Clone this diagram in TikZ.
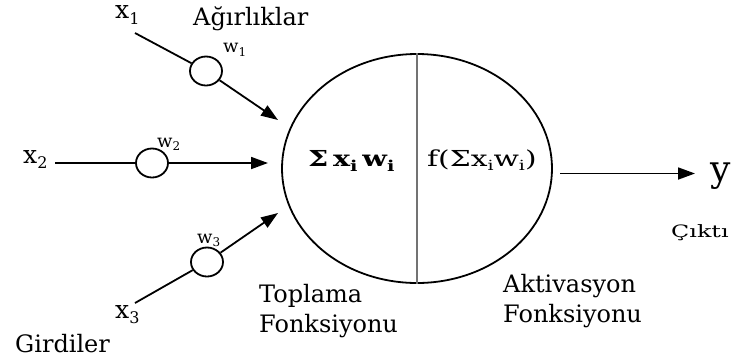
\documentclass[tikz,border=0pt]{standalone}
\usepackage{fontspec}
\setmainfont{DejaVu Serif}
\usetikzlibrary{shapes.geometric,arrows.meta}
\newcommand\dsub[3]{\raisebox{-#2}{\fontsize{#1}{#1}\selectfont #3}}
\tikzset{
  lbl/.style={inner sep=0pt, anchor=base west, font=\fontsize{24}{28}\selectfont},
  var/.style={inner sep=0pt, anchor=base west, font=\fontsize{25}{28}\selectfont},
  wvar/.style={inner sep=0pt, anchor=base west, font=\fontsize{18}{20}\selectfont},
  wcirc/.style={draw, ellipse, line width=1.8pt, minimum width=32pt, minimum height=29pt, inner sep=0pt},
  conn/.style={line width=1.8pt},
  arr/.style={line width=1.8pt, -{Triangle[length=17pt,width=12pt]}},
  formula/.style={inner sep=0pt, anchor=base west, font=\fontsize{22}{24}\selectfont}
}
\begin{document}
\begin{tikzpicture}[x=1pt,y=-1pt]
\useasboundingbox (0,0) rectangle (732,360);
% neuron body
\node[draw, ellipse, line width=1.8pt, minimum width=270pt, minimum height=229pt, inner sep=0pt] (n) at (417,168.5) {};
\draw[line width=2pt, black!55] (n.north) -- (n.south);
% formulas
\node[formula] (sum) at (308,166) {\scalebox{1.3}[1]{\bfseries Σ\,x\dsub{15}{5pt}{i}\,w\dsub{15}{5pt}{i}}};
\node[formula] (act) at (427,166) {\scalebox{1.35}[1]{f(Σx\dsub{14}{4pt}{i}w\dsub{14}{4pt}{i})}};
% input start points
\coordinate (s1) at (135,33);
\coordinate (s2) at (55,163);
\coordinate (s3) at (135,303);
% arrow tips
\coordinate (t1) at (278,120);
\coordinate (t2) at (268,163);
\coordinate (t3) at (278,213);
% weight circles
\node[wcirc] (c1) at (206,71) {};
\node[wcirc] (c2) at (152,163) {};
\node[wcirc] (c3) at (207,262) {};
\draw[conn] (s1) -- (c1);
\draw[conn] (s2) -- (c2);
\draw[conn] (s3) -- (c3);
\draw[arr] (c1) -- (t1);
\draw[arr] (c2) -- (t2);
\draw[arr] (c3) -- (t3);
% output
\coordinate (o1) at (560,173.5);
\coordinate (o2) at (695,173.5);
\draw[arr] (o1) -- (o2);
\node[inner sep=0pt, anchor=base west, font=\fontsize{36}{40}\selectfont] (y) at (710,181) {y};
% variable labels
\node[var] (x1) at (115,18) {x\dsub{16}{6pt}{1}};
\node[var] (x2) at (23,163) {x\dsub{16}{5pt}{2}};
\node[var] (x3) at (115,318) {x\dsub{16}{5pt}{3}};
\node[wvar] (w1) at (223,52) {w\dsub{12}{4pt}{1}};
\node[wvar] (w2) at (157,147) {w\dsub{12}{3pt}{2}};
\node[wvar] (w3) at (197,243) {w\dsub{12}{3pt}{3}};
% text labels
\node[lbl] (agr) at (193,25) {Ağırlıklar};
\node[lbl] (gir) at (15,352) {Girdiler};
\node[lbl] (top1) at (259,302) {Toplama};
\node[lbl] (top2) at (259,332) {Fonksiyonu};
\node[lbl] (akt1) at (503,292) {Aktivasyon};
\node[lbl] (akt2) at (503,322) {Fonksiyonu};
\node[inner sep=0pt, anchor=base west, font=\fontsize{17}{20}\selectfont] (cik) at (671,237) {\scalebox{1.4}[1]{Çıktı}};
\end{tikzpicture}
\end{document}
